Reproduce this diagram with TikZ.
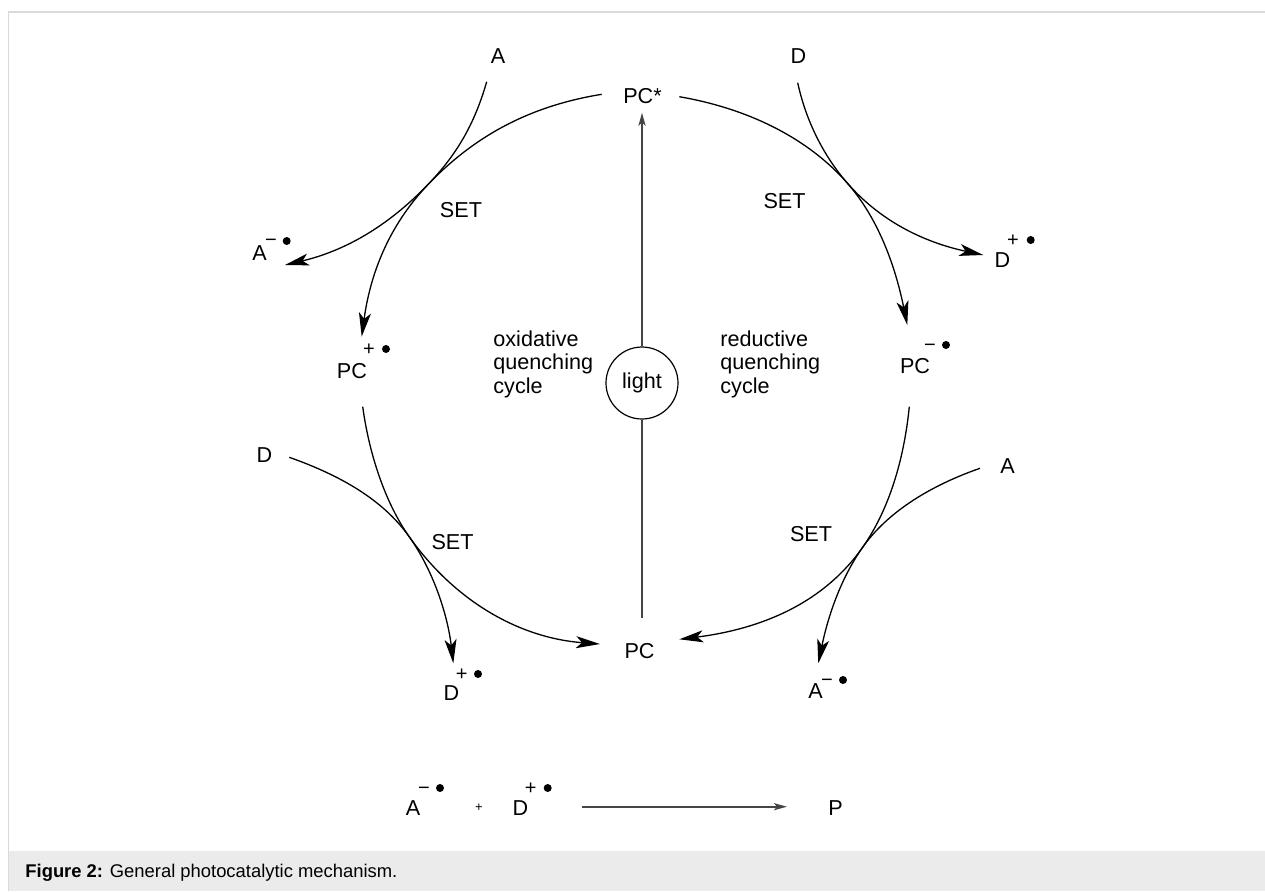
\documentclass[tikz,border=0pt]{standalone}
\usepackage{fontspec}
\setmainfont{Liberation Sans}
\usetikzlibrary{arrows.meta}
\definecolor{framecol}{HTML}{DADADA}
\definecolor{capbg}{HTML}{EBEBEB}
\definecolor{lightln}{HTML}{454545}
\tikzset{
  lbl/.style={anchor=base, inner sep=0pt, font=\fontsize{10.8}{11.75}\selectfont},
  chg/.style={anchor=base, inner sep=0pt, font=\fontsize{10}{10}\selectfont},
  rad/.style={circle, fill=black, inner sep=0pt, minimum size=4pt},
  cyc/.style={-{Stealth[length=12pt,width=6pt,inset=3pt]}, line width=0.65pt},
  thinarrow/.style={-{Stealth[length=6.5pt,width=3.5pt,inset=1.5pt]}, line width=1pt, draw=lightln},
}
\begin{document}
\begin{tikzpicture}[x=0.5pt, y=-0.5pt]
\useasboundingbox (0,0) rectangle (1265,891);
% frame and caption band
\fill[capbg] (8.5,851) rectangle (1265,891);
\draw[framecol, line width=0.75pt] (8.5,891) -- (8.5,12) -- (1265,12);
\node[anchor=base west, inner sep=0pt, font=\fontsize{9.2}{11}\selectfont] (cap) at (25,877) {\textbf{Figure 2:} General photocatalytic mechanism.};

% labels
\node[lbl] (Atl) at (498,63) {A};
\node[lbl] (PCs) at (642.5,103) {PC*};
\node[lbl] (Dtr) at (798.5,63) {D};

\node[lbl] (Aox) at (259.5,260) {A};
\node[chg] (Aoxc) at (271,246) {−};
\node[rad] (Aoxr) at (286.7,241) {};

\node[lbl] (SET1) at (461,217) {SET};
\node[lbl] (SET2) at (784.5,208) {SET};

\node[lbl] (Dred) at (1002.5,267) {D};
\node[chg] (Dredc) at (1013,246) {+};
\node[rad] (Dredr) at (1030.7,240) {};

\node[lbl] (PCox) at (352,378) {PC};
\node[chg] (PCoxc) at (369,355) {+};
\node[rad] (PCoxr) at (386,349) {};

\node[lbl] (PCred) at (915,373) {PC};
\node[chg] (PCredc) at (930,351) {−};
\node[rad] (PCredr) at (946,345) {};

\node[lbl, anchor=base west, align=left] (oxtxt) at (493,393) {oxidative\\quenching\\cycle};
\node[lbl, anchor=base west, align=left] (redtxt) at (720,393) {reductive\\quenching\\cycle};

\node[circle, draw, line width=0.6pt, minimum size=36pt, inner sep=0pt, font=\fontsize{10.8}{11.75}\selectfont] (light) at (642,383) {light};

\node[lbl] (Dl) at (264.5,462) {D};
\node[lbl] (SET3) at (452.5,549) {SET};
\node[lbl] (Dbl) at (451.5,700.7) {D};
\node[chg] (Dblc) at (461.7,680) {+};
\node[rad] (Dblr) at (478,674) {};

\node[lbl] (PCb) at (639.5,658) {PC};

\node[lbl] (Ar) at (1007.5,473) {A};
\node[lbl] (SET4) at (811,541) {SET};
\node[lbl] (Abr) at (815.5,698) {A};
\node[chg] (Abrc) at (827,686) {−};
\node[rad] (Abrr) at (843,680) {};

% bottom equation
\node[lbl] (Aeq) at (413,815) {A};
\node[chg] (Aeqc) at (424,794) {−};
\node[rad] (Aeqr) at (440,788) {};
\node[anchor=center, inner sep=0pt, font=\fontsize{6.5}{6.5}\selectfont] (plus) at (479,808) {+};
\node[lbl] (Deq) at (520.5,815) {D};
\node[chg] (Deqc) at (530.7,794) {+};
\node[rad] (Deqr) at (547.7,788) {};
\node[lbl] (P) at (835.5,815) {P};
\coordinate (prodS) at (582,806.7);
\coordinate (prodE) at (787,806.7);
\draw[thinarrow] (prodS) -- (prodE);

% light line
\draw[thinarrow, shorten >=4.5pt] (light.north) -- (light.north |- PCs.south);
\draw[lightln, line width=1pt, shorten >=12.25pt] (light.south) -- (light.south |- PCb.north);

% curve end points and crossing points
\coordinate (c1s) at (601.7,94.3);  \coordinate (c1e) at (361.7,336.7);
\coordinate (c2s) at (486.7,81.7);  \coordinate (c2e) at (285,265);
\coordinate (c3s) at (679.3,96.7);  \coordinate (c3e) at (983.3,255);
\coordinate (c4s) at (797.7,82.7);  \coordinate (c4e) at (907.3,325);
\coordinate (c5s) at (362.7,406.7); \coordinate (c5e) at (453.3,663.3);
\coordinate (c6s) at (289.3,457.3); \coordinate (c6e) at (600,644);
\coordinate (c7s) at (909.3,406.7); \coordinate (c7e) at (818.3,663.3);
\coordinate (c8s) at (980,468.3);   \coordinate (c8e) at (679.3,639.3);
\coordinate (xTL) at (428.3,184.2);
\coordinate (xTR) at (847.5,183.3);
\coordinate (xBL) at (409.2,536.7);
\coordinate (xBR) at (862.5,547.5);

% oxidative cycle
\draw[cyc] (c1s) .. controls (527.7,106.3) and (473.3,137.3) .. (xTL)
                 .. controls (386.8,227.5) and (369.8,277.3) .. (c1e);
\draw[cyc] (c2s) .. controls (474.3,125) and (456,155.3) .. (xTL)
                 .. controls (386.8,227.5) and (343.4,251.2) .. (c2e);
\draw[cyc] (c5s) .. controls (369.5,456.2) and (386.1,504.1) .. (xBL)
                 .. controls (435.2,573.4) and (448.1,618.6) .. (c5e);
\draw[cyc] (c6s) .. controls (341.2,475.7) and (383.2,500) .. (xBL)
                 .. controls (455.4,602) and (520.2,638) .. (c6e);
% reductive cycle
\draw[cyc] (c3s) .. controls (748.3,108.6) and (808,138.1) .. (xTR)
                 .. controls (883.7,224.7) and (929.5,243.5) .. (c3e);
\draw[cyc] (c4s) .. controls (806.1,121.8) and (824.4,157) .. (xTR)
                 .. controls (880.5,221) and (896.3,271.1) .. (c4e);
\draw[cyc] (c7s) .. controls (903.8,461.4) and (888.4,510.7) .. (xBR)
                 .. controls (839.5,580.2) and (827.4,619.2) .. (c7e);
\draw[cyc] (c8s) .. controls (932.75,484.7) and (888.4,510.7) .. (xBR)
                 .. controls (822.25,604.8) and (758.7,629.3) .. (c8e);
\end{tikzpicture}
\end{document}
